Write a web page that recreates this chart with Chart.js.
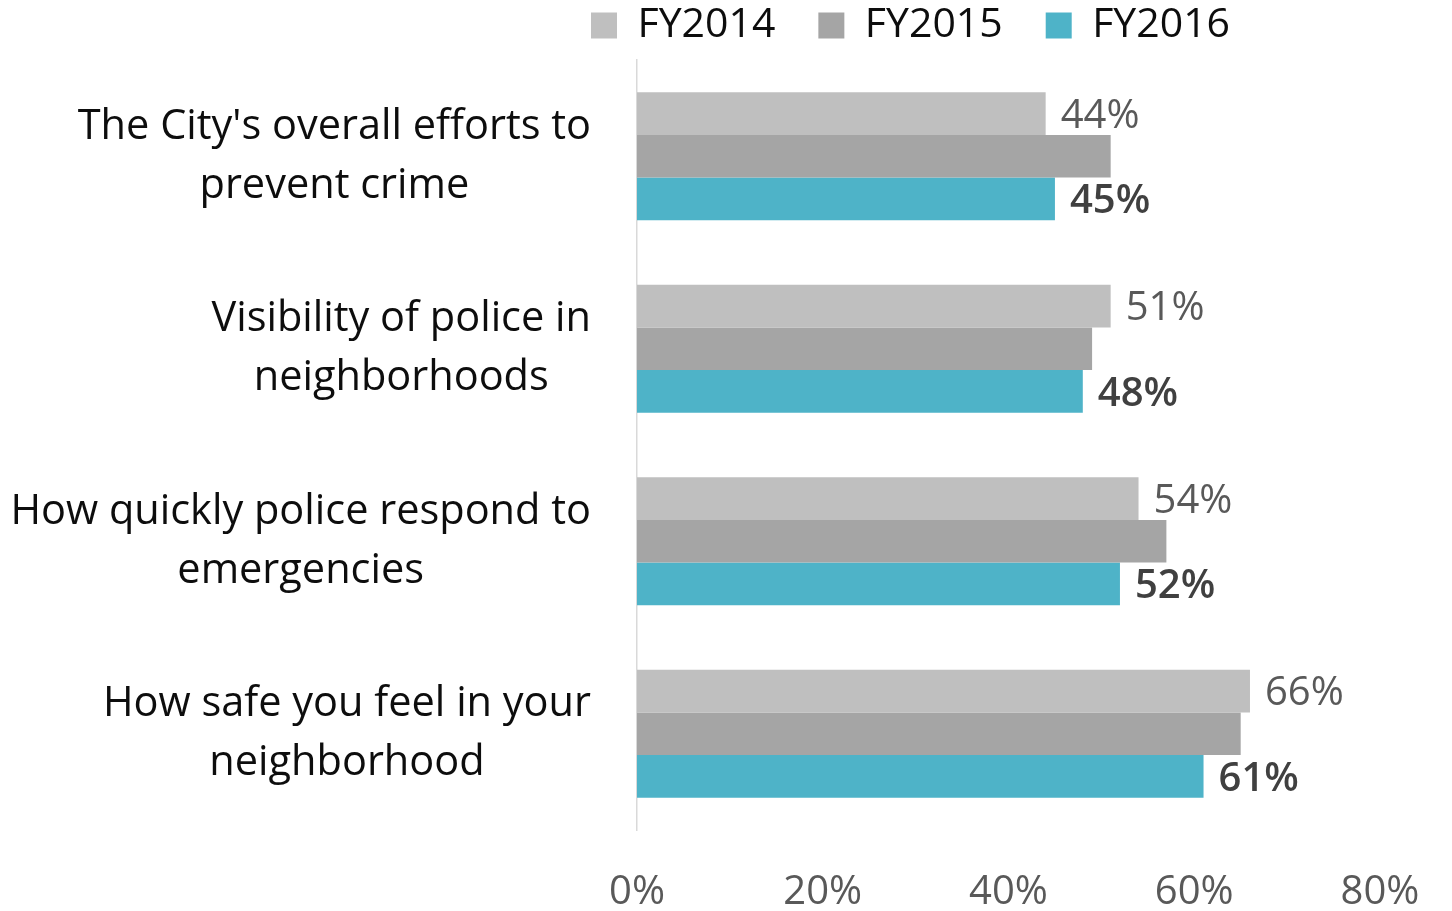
<!DOCTYPE html>
<html>
<head>
<meta charset="utf-8">
<script src="https://cdn.jsdelivr.net/npm/chart.js@4"></script>
<style>
  html, body { margin: 0; padding: 0; background: #fff; }
  #wrap { width: 1452px; height: 911px; position: relative; }
</style>
</head>
<body>
<div id="wrap"><canvas id="myChart"></canvas></div>
<script>
// data
let categories = [
  ["The City's overall efforts to", "prevent crime"],
  ["Visibility of police in", "neighborhoods"],
  ["How quickly police respond to", "emergencies"],
  ["How safe you feel in your", "neighborhood"]
];
let fy2014 = [44, 51, 54, 66];
let fy2015 = [51, 49, 57, 65];
let fy2016 = [45, 48, 52, 61];
let xTicks = [0, 20, 40, 60, 80];

const FONT = "'Open Sans', sans-serif";

// draws the category labels: block right aligned, lines centred inside the block
const catLabels = {
  id: 'catLabels',
  afterDraw(chart) {
    let ctx = chart.ctx;
    let y = chart.scales.y;
    let right = y.right - 46;
    ctx.save();
    ctx.font = "41.5px " + FONT;
    ctx.fillStyle = '#0d0d0d';
    ctx.textAlign = 'center';
    ctx.textBaseline = 'middle';
    categories.forEach(function(lines, i) {
      let w = Math.max(...lines.map(l => ctx.measureText(l).width));
      let cx = right - w / 2;
      let cy = y.getPixelForValue(i);
      let lh = 59;
      let top = cy - (lines.length - 1) * lh / 2;
      lines.forEach(function(l, k) {
        ctx.fillText(l, cx, top + k * lh);
      });
    });
    ctx.restore();
  }
};

// value labels for FY2014 and FY2016 only
const valueLabels = {
  id: 'valueLabels',
  afterDatasetsDraw(chart) {
    let ctx = chart.ctx;
    ctx.save();
    ctx.textAlign = 'left';
    ctx.textBaseline = 'middle';
    [[0, 'normal', '#595959'], [2, '600', '#404040']].forEach(function(s) {
      let meta = chart.getDatasetMeta(s[0]);
      ctx.font = s[1] + " 40px " + FONT;
      ctx.fillStyle = s[2];
      meta.data.forEach(function(bar, i) {
        let v = chart.data.datasets[s[0]].data[i];
        ctx.fillText(v + '%', bar.x + 15, bar.y + 3);
      });
    });
    ctx.restore();
  }
};

// a bit of extra space under the legend
const legendGap = {
  id: 'legendGap',
  beforeLayout(chart) {
    let lg = chart.legend;
    if (lg && !lg._gapDone) {
      let fit = lg.fit;
      lg.fit = function() {
        fit.call(this);
        this.height += 4;
      };
      lg._gapDone = true;
    }
  }
};

let chart = document.getElementById('myChart');

const config = {
  type: 'bar',
  data: {
    labels: categories,
    datasets: [
      { label: 'FY2014', data: fy2014, backgroundColor: '#BFBFBF' },
      { label: 'FY2015', data: fy2015, backgroundColor: '#A5A5A5' },
      { label: 'FY2016', data: fy2016, backgroundColor: '#4EB3C8' }
    ]
  },
  options: {
    indexAxis: 'y',
    responsive: true,
    maintainAspectRatio: false,
    animation: false,
    categoryPercentage: 0.665,
    barPercentage: 1.0,
    layout: {
      padding: { left: 548, right: 72, top: -38, bottom: 0 }
    },
    plugins: {
      tooltip: { enabled: false },
      legend: {
        position: 'top',
        align: 'start',
        labels: {
          boxWidth: 26,
          boxHeight: 26,
          padding: 43,
          color: '#0d0d0d',
          font: { family: FONT, size: 41 }
        }
      }
    },
    scales: {
      x: {
        min: 0,
        max: 80,
        afterBuildTicks: function(s) {
          s.ticks = xTicks.map(v => ({ value: v }));
        },
        afterFit: function(s) { s.height = 81; },
        grid: { display: false },
        border: { display: false },
        ticks: {
          color: '#595959',
          padding: 31,
          font: { family: FONT, size: 40 },
          callback: function(v) { return v + '%'; }
        }
      },
      y: {
        afterFit: function(s) { s.width = 89; },
        grid: { display: false, drawTicks: false },
        border: { display: true, color: '#D9D9D9', width: 1.5 },
        ticks: { display: false }
      }
    }
  },
  plugins: [catLabels, valueLabels, legendGap]
};

var myChart = new Chart(chart, config);
</script>
</body>
</html>
